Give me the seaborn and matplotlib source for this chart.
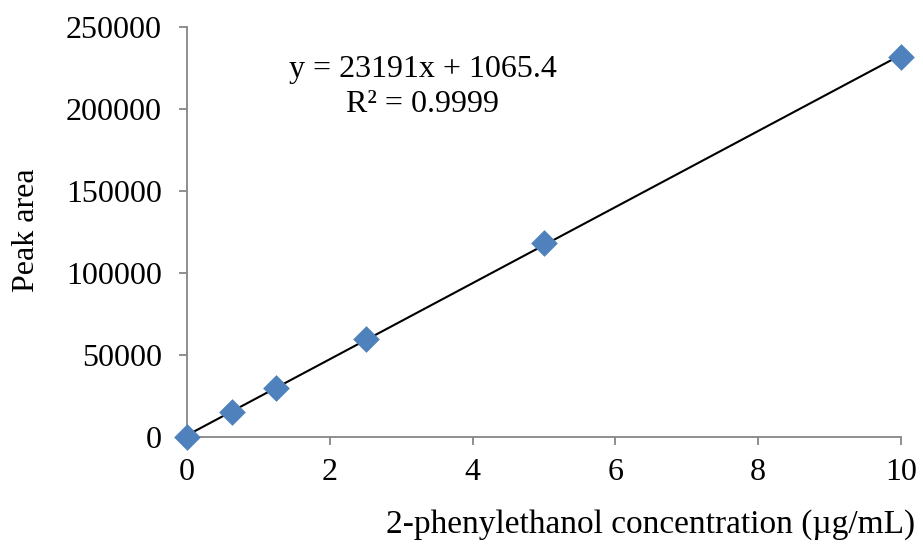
import matplotlib
matplotlib.use("Agg")
import matplotlib.pyplot as plt
import seaborn as sns
import numpy as np
import pandas as pd

conc = [0, 0.625, 1.25, 2.5, 5, 10]
area = [0, 15500, 30000, 59500, 118000, 232000]
slope = 23191
intercept = 1065.4
eq_text = "y = 23191x + 1065.4"
r2_text = "R² = 0.9999"
xlabel = "2-phenylethanol concentration (µg/mL)"
ylabel = "Peak area"
xticks = [0, 2, 4, 6, 8, 10]
yticks = [0, 50000, 100000, 150000, 200000, 250000]

sns.set_theme(style="white")
plt.rcParams['font.family'] = ['Liberation Serif', 'DejaVu Serif']
plt.rcParams['text.color'] = 'black'

df = pd.DataFrame({"conc": conc, "area": area})

fig = plt.figure(figsize=(9.23, 5.58), dpi=100)
ax = fig.add_axes([0.2026, 0.2168, 0.7736, 0.7348])

xl = np.array([min(conc), max(conc)])
ax.plot(xl, slope * xl + intercept, color="black", lw=1.5, zorder=2)
sns.scatterplot(data=df, x="conc", y="area", marker="D", s=185, color="#4F81BD",
                edgecolor="#4F81BD", linewidth=0, ax=ax, zorder=3, clip_on=False)

ax.set_xlim(0, 10)
ax.set_ylim(0, 250000)
ax.set_xticks(xticks)
ax.set_yticks(yticks)
ax.set_xticklabels([str(t) for t in xticks])
ax.set_yticklabels([str(t) for t in yticks])
for s in ["top", "right"]:
    ax.spines[s].set_visible(False)
for s in ["left", "bottom"]:
    ax.spines[s].set_color("#868686")
    ax.spines[s].set_linewidth(1.3)
ax.tick_params(axis="both", which="major", direction="out", length=6, width=1.3,
               color="#868686", labelsize=23, labelcolor="black", bottom=True, left=True)
ax.tick_params(axis="x", pad=9)
ax.tick_params(axis="y", pad=12)
ax.set_xlabel("")
ax.set_ylabel("")
ax.grid(False)

fig.text(0.991, 0.032, xlabel, ha="right", va="bottom", fontsize=24, color="black")
fig.text(0.029, 0.587, ylabel, ha="center", va="center", rotation=90, fontsize=23, color="black")
fig.text(0.458, 0.875, eq_text, ha="center", va="center", fontsize=23, color="black")
fig.text(0.458, 0.812, r2_text, ha="center", va="center", fontsize=23, color="black")

fig.savefig("out.png", dpi=100)
